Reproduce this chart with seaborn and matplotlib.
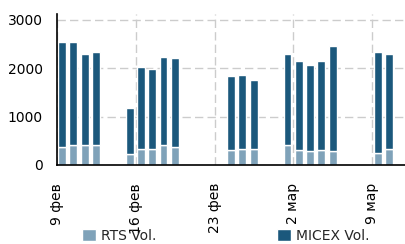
import pandas as pd
import seaborn as sns
import matplotlib.pyplot as plt
import matplotlib.dates as mdates
from matplotlib.ticker import FuncFormatter

dates = ["2009-02-09", "2009-02-10", "2009-02-11", "2009-02-12",
         "2009-02-15", "2009-02-16", "2009-02-17", "2009-02-18", "2009-02-19",
         "2009-02-24", "2009-02-25", "2009-02-26",
         "2009-03-01", "2009-03-02", "2009-03-03", "2009-03-04", "2009-03-05",
         "2009-03-09", "2009-03-10"]
rts = [380, 420, 420, 420, 235, 335, 335, 420, 380, 315, 335, 335,
       420, 315, 295, 315, 295, 255, 335]
micex = [2160, 2120, 1880, 1920, 950, 1690, 1650, 1815, 1835, 1520, 1530, 1420,
         1870, 1830, 1770, 1830, 2160, 2080, 1955]
months = {2: "фев", 3: "мар"}

sns.set_style("white")
plt.rcParams['font.family'] = ['Liberation Sans Narrow', 'DejaVu Sans Condensed', 'DejaVu Sans']
plt.rcParams['font.size'] = 10

df = pd.DataFrame({"date": pd.to_datetime(dates), "rts": rts, "micex": micex})
x = df["date"] + pd.Timedelta(hours=3)

fig = plt.figure(figsize=(4.05, 2.44), dpi=100)
ax = fig.add_axes([0.14, 0.324, 0.86, 0.619])

c_rts = "#7fa2b9"
c_micex = "#1b587c"
ax.bar(x, df["rts"], width=0.7, align="edge", color=c_rts, label="RTS Vol.", zorder=2)
ax.bar(x, df["micex"], width=0.7, align="edge", bottom=df["rts"], color=c_micex,
       label="MICEX Vol.", zorder=2)

ax.set_xlim(pd.Timestamp("2009-02-09"), pd.Timestamp("2009-02-09") + pd.Timedelta(days=30.9))
ax.set_ylim(0, 3120)
ax.set_yticks([0, 1000, 2000, 3000])
ax.xaxis.set_major_locator(mdates.DayLocator(bymonthday=[2, 9, 16, 23]))
ax.xaxis.set_major_formatter(FuncFormatter(
    lambda v, p: f"{mdates.num2date(v).day} {months[mdates.num2date(v).month]}"))
plt.setp(ax.get_xticklabels(), rotation=90)

ax.grid(True, color="#cccccc", linestyle=(0, (6, 3)), linewidth=1, zorder=0)
sns.despine(ax=ax)
for s in ["left", "bottom"]:
    ax.spines[s].set_color("black")
    ax.spines[s].set_linewidth(1.2)
ax.tick_params(axis="both", length=5, width=1, color="black", labelcolor="black")
ax.tick_params(axis="x", pad=8)
ax.tick_params(axis="y", pad=5)

fig.legend(loc="upper left", bbox_to_anchor=(0.203, 0.062), ncol=2, frameon=False,
           handlelength=1.0, handleheight=1.0, handletextpad=0.35, columnspacing=8.7,
           borderpad=0, borderaxespad=0, fontsize=10)

fig.savefig("out.png", dpi=100)
